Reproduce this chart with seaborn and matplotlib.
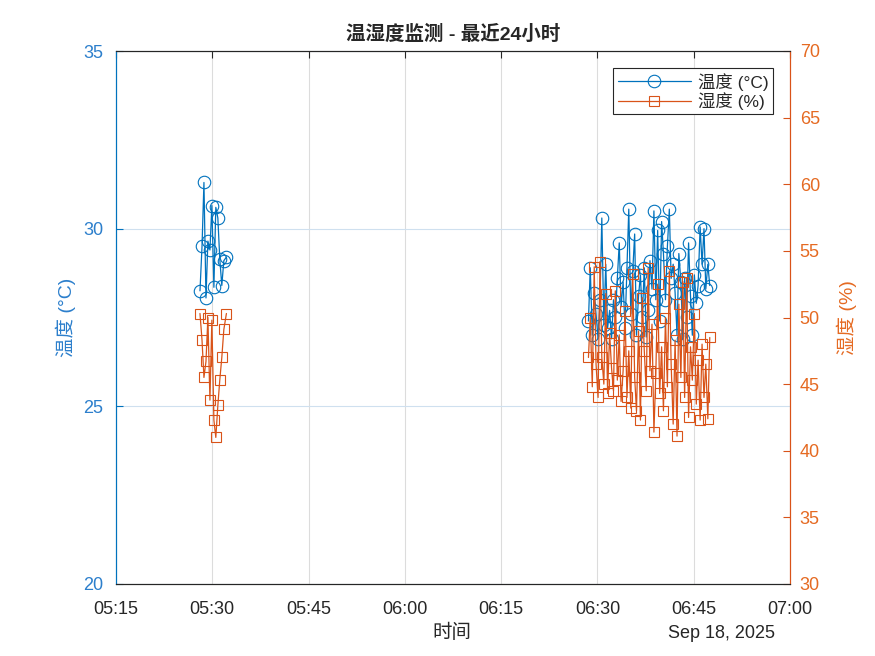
import matplotlib
matplotlib.use("Agg")
import matplotlib.pyplot as plt
import matplotlib.dates as mdates
from matplotlib.lines import Line2D
import seaborn as sns
import pandas as pd

# ---------------- data ----------------
day = "2025-09-18"
# cluster 1: seconds after 05:27:00
c1_sec = [65, 84, 102, 121, 139, 158, 176, 195, 213, 232, 250, 269, 288, 312]
c1_temp = [28.25, 29.5, 31.3, 28.05, 29.65, 29.4, 30.65, 28.35, 30.6, 30.3, 29.15, 28.4, 29.1, 29.2]
c1_hum = [50.3, 48.3, 45.5, 46.7, 50.0, 43.8, 49.8, 42.3, 41.0, 43.4, 45.3, 47.0, 49.1, 50.3]
# cluster 2: seconds after 06:28:00
c2_sec = [36, 53, 72, 90, 107, 126, 144, 161, 180, 198,
          215, 234, 252, 270, 287, 306, 324, 341, 360, 378,
          396, 413, 432, 450, 468, 485, 504, 522, 539, 558,
          576, 594, 611, 630, 648, 666, 683, 702, 720, 737,
          756, 774, 792, 809, 828, 846, 864, 881, 900, 918,
          935, 954, 972, 990, 1007, 1026, 1044, 1061, 1080, 1098,
          1116, 1133, 1152, 1170]
c2_temp = [27.4, 28.9, 27.0, 28.2, 27.6, 26.9, 28.0, 30.3, 27.3, 29.0,
           27.2, 27.7, 26.9, 28.0, 27.5, 28.6, 29.6, 27.8, 28.5, 27.2,
           28.9, 30.55, 27.6, 28.8, 29.85, 27.0, 28.1, 28.7, 27.5, 28.9,
           26.95, 27.7, 29.1, 28.3, 30.5, 28.0, 29.95, 27.4, 30.2, 29.3,
           28.0, 29.5, 30.55, 28.6, 29.0, 28.2, 27.0, 29.3, 28.5, 26.9,
           28.6, 27.5, 29.6, 28.1, 27.0, 28.7, 27.9, 28.4, 30.05, 29.0,
           30.0, 28.3, 29.0, 28.4]
c2_hum = [47.0, 50.0, 44.8, 53.8, 46.5, 44.0, 54.2, 47.0, 45.0, 51.8,
          44.3, 48.8, 46.2, 44.5, 52.0, 45.3, 48.7, 43.7, 46.0, 50.5,
          44.0, 47.5, 43.2, 53.3, 45.5, 43.0, 49.0, 42.3, 51.5, 47.5,
          44.5, 53.7, 46.0, 49.5, 41.4, 45.8, 52.5, 44.3, 47.8, 43.0,
          50.0, 44.8, 53.5, 46.5, 42.0, 48.3, 41.1, 51.0, 45.5, 52.7,
          44.0, 53.0, 42.5, 47.8, 45.3, 50.3, 43.5, 46.8, 42.3, 48.0,
          44.0, 46.5, 42.4, 48.5]

x_ticks = ["05:15", "05:30", "05:45", "06:00", "06:15", "06:30", "06:45", "07:00"]
temp_ticks = [20, 25, 30, 35]
hum_ticks = [30, 35, 40, 45, 50, 55, 60, 65, 70]

t1 = pd.Timestamp(f"{day} 05:27:00") + pd.to_timedelta(c1_sec, unit="s")
t2 = pd.Timestamp(f"{day} 06:28:00") + pd.to_timedelta(c2_sec, unit="s")
df = pd.DataFrame({
    "time": list(t1) + list(t2),
    "temp": c1_temp + c2_temp,
    "hum": c1_hum + c2_hum,
    "seg": [1] * len(c1_sec) + [2] * len(c2_sec),
})

BLUE = "#0072BD"
ORANGE = "#D95319"
BLUE_TXT = "#2C7FCC"
ORANGE_TXT = "#E56A22"

sns.set_theme(style="white")
plt.rcParams["font.family"] = ["Liberation Sans", "Noto Sans CJK SC", "DejaVu Sans"]

fig = plt.figure(figsize=(8.75, 6.56), dpi=100)
ax = fig.add_axes([116 / 875, 1 - 584 / 656, (790 - 116) / 875, (584 - 51) / 656])
ax2 = ax.twinx()

sns.lineplot(data=df, x="time", y="temp", units="seg", estimator=None, sort=False,
             ax=ax, color=BLUE, lw=0.9, marker="o", markersize=9,
             markerfacecolor="none", markeredgecolor=BLUE, markeredgewidth=0.8)
sns.lineplot(data=df, x="time", y="hum", units="seg", estimator=None, sort=False,
             ax=ax2, color=ORANGE, lw=0.9, marker="s", markersize=6.5,
             markerfacecolor="none", markeredgecolor=ORANGE, markeredgewidth=0.8)

xt = [pd.Timestamp(f"{day} {s}") for s in x_ticks]
ax.set_xlim(xt[0], xt[-1])
ax.set_xticks(xt)
ax.xaxis.set_major_formatter(mdates.DateFormatter("%H:%M"))
ax.set_ylim(temp_ticks[0], temp_ticks[-1])
ax.set_yticks(temp_ticks)
ax2.set_ylim(hum_ticks[0], hum_ticks[-1])
ax2.set_yticks(hum_ticks)

ax.grid(axis="x", color="#dcdcdc", lw=0.8)
ax.grid(axis="y", color="#cfe0ef", lw=0.8)
ax2.grid(False)
ax.set_axisbelow(True)

for a in (ax, ax2):
    for s in a.spines.values():
        s.set_linewidth(0.8)
    a.spines["top"].set_color("#262626")
    a.spines["bottom"].set_color("#262626")
    a.spines["left"].set_color(BLUE)
    a.spines["right"].set_color(ORANGE)

ax.tick_params(axis="x", direction="in", length=5, width=0.8, color="#262626",
               labelcolor="#262626", labelsize=13, pad=12, top=True)
ax.tick_params(axis="y", direction="in", length=5, width=0.8, color=BLUE,
               labelcolor=BLUE_TXT, labelsize=13, pad=9, left=True, right=False)
ax2.tick_params(axis="y", direction="in", length=5, width=0.8, color=ORANGE,
                labelcolor=ORANGE_TXT, labelsize=13, pad=7, right=True, left=False)
ax2.tick_params(axis="x", top=False, bottom=False)

ax.set_ylabel("温度 (°C)", color=BLUE_TXT, fontsize=14, labelpad=5)
ax2.set_ylabel("湿度 (%)", color=ORANGE_TXT, fontsize=14, labelpad=12)
ax.set_xlabel("")
fig.text(452 / 875, 1 - 633 / 656, "时间", ha="center", va="center", fontsize=14, color="#262626")
fig.text(775 / 875, 1 - 633 / 656, "Sep 18, 2025", ha="right", va="center", fontsize=13, color="#262626")
ax.set_title("温湿度监测 - 最近24小时", fontsize=14, fontweight="bold", color="#262626", pad=8)

handles = [
    Line2D([], [], color=BLUE, lw=0.9, marker="o", markersize=9, markerfacecolor="none", markeredgewidth=0.8),
    Line2D([], [], color=ORANGE, lw=0.9, marker="s", markersize=6.5, markerfacecolor="none", markeredgewidth=0.8),
]
leg = ax2.legend(handles, ["温度 (°C)", "湿度 (%)"], loc="upper right", fontsize=12.5,
                 frameon=True, fancybox=False, edgecolor="#262626", framealpha=1,
                 handlelength=4.2, borderpad=0.25, labelspacing=0.1, handletextpad=0.4,
                 borderaxespad=1.0)
leg.get_frame().set_linewidth(0.8)

fig.savefig("out.png", dpi=100)
